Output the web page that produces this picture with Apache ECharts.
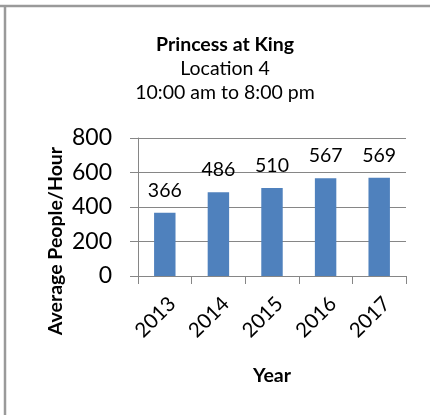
<!DOCTYPE html>
<html><head><meta charset="utf-8">
<script src="https://cdn.jsdelivr.net/npm/echarts@6/dist/echarts.min.js"></script>
<style>html,body{margin:0;padding:0;background:#fff}#c{width:430px;height:415px}</style>
</head><body><div id="c"></div>
<script>
const years = ['2013','2014','2015','2016','2017'];
const avgPeoplePerHour = [366, 486, 510, 567, 569];
const yTicks = [0, 200, 400, 600, 800];
const titleLines = ['Princess at King', 'Location 4', '10:00 am to 8:00 pm'];
const yAxisTitle = 'Average People/Hour';
const xAxisTitle = 'Year';

const FONT = 'Lato, "Open Sans", sans-serif';
const chart = echarts.init(document.getElementById('c'), null, {renderer:'canvas'});
chart.setOption({
  animation: false,
  backgroundColor: '#fff',
  title: [
    {text: titleLines[0], left: 220, top: 30, textAlign: 'center',
     textStyle: {fontFamily: FONT, fontSize: 19.5, fontWeight: 'bold', color: '#000'}},
    {text: titleLines[1], left: 220, top: 54, textAlign: 'center',
     textStyle: {fontFamily: FONT, fontSize: 19.5, fontWeight: 'normal', color: '#000'}},
    {text: titleLines[2], left: 220, top: 78, textAlign: 'center',
     textStyle: {fontFamily: FONT, fontSize: 19.5, fontWeight: 'normal', color: '#000'}}
  ],
  graphic: [
    {type: 'line', shape: {x1: 0, y1: 6, x2: 430, y2: 6}, style: {stroke: '#9a9a9a', lineWidth: 2.5}},
    {type: 'line', shape: {x1: 5, y1: 5, x2: 5, y2: 415}, style: {stroke: '#9a9a9a', lineWidth: 2.5}},
    {type: 'text', x: 56, y: 241, rotation: Math.PI/2,
     style: {text: yAxisTitle, fontFamily: FONT, fontSize: 19.5, fontWeight: 'bold', fill: '#000',
             align: 'center', verticalAlign: 'middle'}}
  ],
  grid: {left: 138, right: 24, top: 138, bottom: 139, containLabel: false},
  xAxis: {
    type: 'category', data: years,
    name: xAxisTitle, nameLocation: 'middle', nameGap: 100,
    nameTextStyle: {fontFamily: FONT, fontSize: 19.5, fontWeight: 'bold', color: '#000', verticalAlign: 'middle'},
    axisLine: {lineStyle: {color: '#868686', width: 1}},
    axisTick: {show: true, alignWithLabel: false, length: 8, lineStyle: {color: '#868686'}},
    axisLabel: {rotate: 45, margin: 17, verticalAlign: 'top', fontFamily: FONT, fontSize: 20.5, color: '#000'}
  },
  yAxis: {
    type: 'value', min: yTicks[0], max: yTicks[yTicks.length-1], interval: 200,
    axisLine: {show: true, lineStyle: {color: '#868686', width: 1}},
    axisTick: {show: true, inside: false, length: 8, lineStyle: {color: '#868686'}},
    axisLabel: {margin: 26, fontFamily: FONT, fontSize: 23, color: '#000'},
    splitLine: {show: true, lineStyle: {color: '#868686', width: 1}}
  },
  series: [{
    type: 'bar', data: avgPeoplePerHour, barWidth: '40%',
    itemStyle: {color: '#4F81BD'},
    label: {show: true, position: 'top', distance: 12, fontFamily: FONT, fontSize: 19.5, color: '#000'}
  }]
});
</script></body></html>
